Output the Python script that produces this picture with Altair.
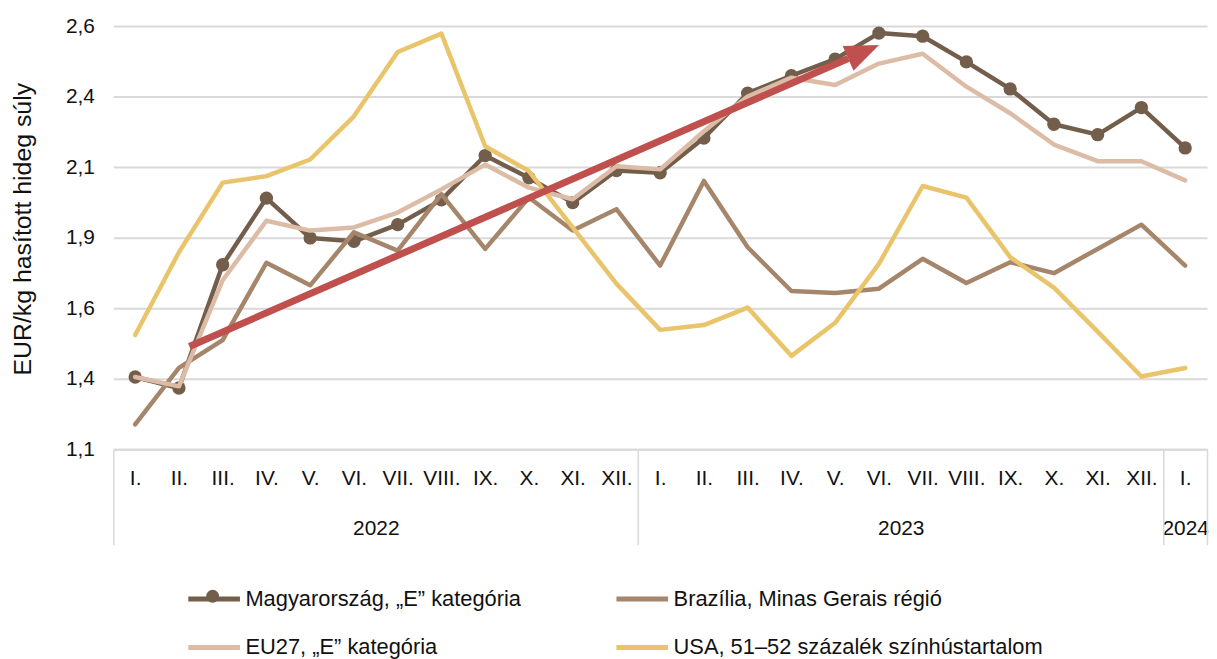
import json
import altair as alt
import pandas as pd

# ---------------- data ----------------
month_labels = ["I.", "II.", "III.", "IV.", "V.", "VI.", "VII.", "VIII.", "IX.", "X.", "XI.", "XII.",
                "I.", "II.", "III.", "IV.", "V.", "VI.", "VII.", "VIII.", "IX.", "X.", "XI.", "XII.",
                "I."]
year_names = ["2022", "2023", "2024"]
year_counts = [12, 12, 1]

series_names = ["Magyarország, \u201eE\u201d kategória",
                "Brazília, Minas Gerais régió",
                "EU27, \u201eE\u201d kategória",
                "USA, 51\u201352 százalék színhústartalom"]
series_colors = ["#735e4c", "#a5866a", "#dcbca6", "#e9c46a"]

hungary = [1.406, 1.367, 1.804, 2.040, 1.899, 1.887, 1.946, 2.034, 2.191, 2.112, 2.024, 2.138,
           2.130, 2.253, 2.412, 2.474, 2.533, 2.625, 2.614, 2.523, 2.427, 2.302, 2.265, 2.361,
           2.218]
brazil = [1.238, 1.438, 1.537, 1.811, 1.731, 1.919, 1.854, 2.054, 1.860, 2.042, 1.925, 2.001,
          1.801, 2.101, 1.866, 1.711, 1.704, 1.719, 1.825, 1.739, 1.813, 1.774, 1.860, 1.946,
          1.801]
eu27 = [1.406, 1.373, 1.749, 1.960, 1.925, 1.936, 1.989, 2.071, 2.159, 2.077, 2.036, 2.153,
        2.142, 2.277, 2.400, 2.467, 2.441, 2.517, 2.552, 2.435, 2.341, 2.230, 2.171, 2.171,
        2.103]
usa = [1.555, 1.848, 2.095, 2.118, 2.177, 2.330, 2.558, 2.623, 2.224, 2.136, 1.936, 1.737,
       1.573, 1.590, 1.652, 1.481, 1.598, 1.807, 2.083, 2.042, 1.831, 1.723, 1.567, 1.408,
       1.438]

y_ticks = [1.15, 1.40, 1.65, 1.90, 2.15, 2.40, 2.65]
y_labels = ["1,1", "1,4", "1,6", "1,9", "2,1", "2,4", "2,6"]

# trend arrow (month index, value)
arrow_x = [1.24, 16.30]
arrow_y = [1.514, 2.535]
arrow_head_x = [16.65]
arrow_head_y = [2.559]

# ---------------- tables ----------------
n = len(month_labels)
rows = []
for name, vals in zip(series_names, [hungary, brazil, eu27, usa]):
    for i, v in enumerate(vals):
        rows.append({"idx": i, "series": name, "value": v})
df = pd.DataFrame(rows)

arrow_df = pd.DataFrame({"idx": arrow_x, "value": arrow_y})
head_df = pd.DataFrame({"idx": arrow_head_x, "value": arrow_head_y})

# year centers / boundaries from month counts
year_centers, bounds = [], [-0.5]
start = 0
for c in year_counts:
    year_centers.append(start + (c - 1) / 2)
    start += c
    bounds.append(start - 0.5)

FONT = "Liberation Sans"
GRID = "#d9d9d9"
TXT = "#111111"
HU_COLOR = series_colors[0]

xscale = alt.Scale(domain=[-0.5, n - 0.5], nice=False, zero=False)
yscale = alt.Scale(domain=[1.15, 2.65], nice=False, zero=False)

month_axis = alt.Axis(
    orient="bottom",
    values=list(range(n)),
    labelExpr=f"{json.dumps(month_labels)}[datum.value]",
    ticks=False, tickSize=0, grid=False, domain=True, domainColor=GRID, domainWidth=2,
    labelFont=FONT, labelFontSize=21, labelColor=TXT, labelPadding=19,
    labelAngle=0, labelOverlap=False, labelBound=False, labelFlush=False, title=None,
)
year_expr = " : ".join(f"datum.value == {c} ? '{y}'" for c, y in zip(year_centers, year_names)) + " : ''"
year_axis = alt.Axis(
    orient="bottom",
    values=year_centers, labelExpr=year_expr,
    ticks=False, tickSize=0, grid=False, domain=False,
    labelFont=FONT, labelFontSize=21, labelColor=TXT, labelPadding=69,
    labelAngle=0, labelOverlap=False, labelFlush=False, labelBound=False, title=None,
)
sep_axis = alt.Axis(
    orient="bottom",
    values=bounds, labels=False, ticks=True, tickSize=96, tickColor=GRID, tickWidth=1.5,
    grid=False, domain=False, title=None,
)
y_axis = alt.Axis(
    orient="left",
    values=y_ticks,
    labelExpr=f"{json.dumps(y_labels)}[indexof({json.dumps(y_ticks)}, datum.value)]",
    grid=True, gridColor=GRID, gridWidth=2, ticks=False, domain=False,
    labelFont=FONT, labelFontSize=21, labelColor=TXT, labelPadding=19,
    title="EUR/kg hasított hideg súly", titleFont=FONT, titleFontSize=25,
    titleFontWeight="normal", titleColor=TXT, titleX=-78, titleY=204,
)

color = alt.Color(
    "series:N",
    scale=alt.Scale(domain=series_names, range=series_colors),
    legend=alt.Legend(
        title=None, orient="none", legendX=86, legendY=561, columns=2,
        direction="horizontal",
        symbolType="M-2,0L2,0", symbolStrokeWidth=5, symbolSize=676,
        labelFont=FONT, labelFontSize=22, labelColor=TXT, labelOffset=16,
        columnPadding=85, rowPadding=22, labelLimit=600,
    ),
)


def line_layer(name, xaxis=None, yaxis=None):
    return alt.Chart(df).transform_filter(alt.datum.series == name).mark_line(
        strokeWidth=4.5, strokeJoin="round", strokeCap="round"
    ).encode(
        x=alt.X("idx:Q", scale=xscale, axis=xaxis),
        y=alt.Y("value:Q", scale=yscale, axis=yaxis),
        color=color,
    )


hu_line = line_layer(series_names[0], xaxis=month_axis, yaxis=y_axis)
br_line = line_layer(series_names[1], xaxis=year_axis)
eu_line = line_layer(series_names[2], xaxis=sep_axis)
us_line = line_layer(series_names[3])

# Hungarian markers (+ the marker dot on the legend line)
hu_pts = alt.Chart(df).transform_filter(alt.datum.series == series_names[0]).transform_calculate(
    marker="datum.series"
).mark_point(filled=True, size=180, opacity=1, color=HU_COLOR, strokeWidth=0).encode(
    x=alt.X("idx:Q", scale=xscale, axis=None),
    y=alt.Y("value:Q", scale=yscale, axis=None),
    shape=alt.Shape(
        "marker:N",
        scale=alt.Scale(domain=[series_names[0]], range=["circle"]),
        legend=alt.Legend(
            title=None, orient="none", legendX=93, legendY=567,
            symbolSize=170, symbolFillColor=HU_COLOR, symbolStrokeColor=HU_COLOR,
            symbolStrokeWidth=0, labelExpr="''", labelFontSize=1, labelOffset=0,
        ),
    ),
)

arrow_line = alt.Chart(arrow_df).mark_line(color="#c0504d", strokeWidth=7, strokeCap="butt").encode(
    x=alt.X("idx:Q", scale=xscale, axis=None),
    y=alt.Y("value:Q", scale=yscale, axis=None),
)
arrow_head = alt.Chart(head_df).mark_point(
    shape="M-1,-0.8L1,0L-1,0.8Z", filled=True, fill="#c0504d", color="#c0504d",
    opacity=1, size=1156, angle=336.4, strokeWidth=0,
).encode(
    x=alt.X("idx:Q", scale=xscale, axis=None),
    y=alt.Y("value:Q", scale=yscale, axis=None),
)

chart = alt.layer(
    hu_line, hu_pts, br_line, eu_line, us_line, arrow_line, arrow_head
).resolve_axis(x="independent", y="independent").properties(
    width=1101, height=426,
    autosize=alt.AutoSizeParams(type="none"),
    padding={"left": 106, "top": 16, "right": 2, "bottom": 209},
    background="white",
).configure_view(stroke=None)

chart.save("out.html", embed_options={"renderer": "svg", "actions": False})
